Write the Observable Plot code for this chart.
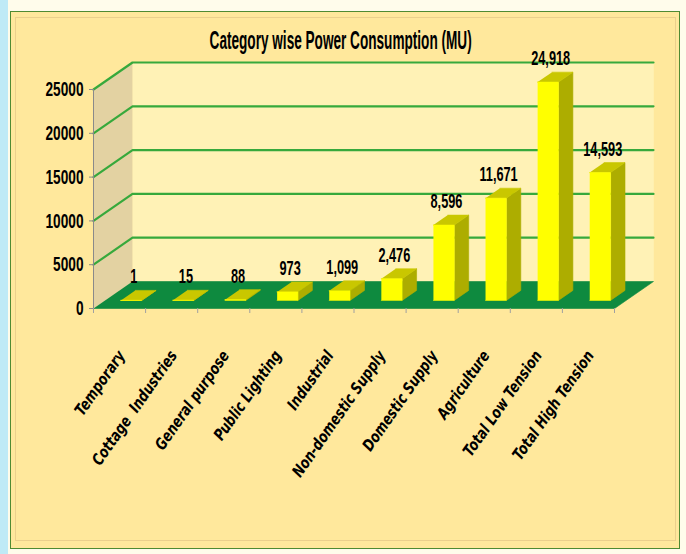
<!DOCTYPE html>
<html><head><meta charset="utf-8">
<script src="https://cdn.jsdelivr.net/npm/d3@7"></script>
<script src="https://cdn.jsdelivr.net/npm/@observablehq/plot@0.6"></script>
<style>
html,body{margin:0;padding:0;width:686px;height:554px;overflow:hidden;background:#FFFCEB;}
#strip{position:absolute;left:0;top:0;width:8px;height:554px;background:#BFEAF6;}
#frame{position:absolute;left:10px;top:11px;width:670px;height:538px;border:1.5px solid #4F8B33;background:#FFE89C;box-sizing:border-box;}
#inner{position:absolute;left:15px;top:17px;width:661px;height:524px;border:1px solid #EBD08C;box-sizing:border-box;}
#title{position:absolute;left:0;top:25px;width:682px;text-align:center;color:#000;line-height:30px;}
#title span{display:inline-block;font:bold 26px "Liberation Sans",Arial,sans-serif;transform-origin:50% 50%;white-space:nowrap;}
#chart{position:absolute;left:0;top:0;}
</style></head>
<body>
<div id="strip"></div>
<div id="frame"></div>
<div id="inner"></div>
<div id="title"><span>Category wise Power Consumption (MU)</span></div>
<div id="chart"></div>
<script>
const categories = ["Temporary", "Cottage  Industries", "General purpose", "Public Lighting", "Industrial",
  "Non-domestic Supply", "Domestic Supply", "Agriculture", "Total Low Tension", "Total High Tension"];
const values = [1, 15, 88, 973, 1099, 2476, 8596, 11671, 24918, 14593];
const yTicks = [0, 5000, 10000, 15000, 20000, 25000];

const W = 686, H = 554, mL = 93, mR = 33, mT = 62, mB = 246;
const depthPxX = 39, depthPxY = 27;
const yTop = yTicks[yTicks.length - 1];
const n = categories.length;
const DXu = n * depthPxX / ((W - mL - mR) - depthPxX);
const DYu = yTop * depthPxY / ((H - mT - mB) - depthPxY);
const P = (x, v, d) => ({x: x + d * DXu, y: v + d * DYu});
const poly = (id, pts) => pts.map(p => ({id, ...p}));

const sideWall = poly("side", [P(0,0,0), P(0,0,1), P(0,yTop,1), P(0,yTop,0)]);
const backWall = poly("back", [P(0,0,1), P(n,0,1), P(n,yTop,1), P(0,yTop,1)]);
const floor = poly("floor", [P(0,0,0), P(n,0,0), P(n,0,1), P(0,0,1)]);
const grid = yTicks.filter(t => t > 0).flatMap(t => poly(t, [P(0,t,0), P(0,t,1), P(n,t,1)]));

const bw = 0.4, d0 = 0.3, d1 = 0.67;
const fronts = [], sides = [], tops = [];
values.forEach((v, i) => {
  const a = i + 0.5 - bw / 2, b = a + bw;
  fronts.push(...poly(i, [P(a,0,d0), P(b,0,d0), P(b,v,d0), P(a,v,d0)]));
  sides.push(...poly(i, [P(b,0,d0), P(b,0,d1), P(b,v,d1), P(b,v,d0)]));
  tops.push(...poly(i, [P(a,v,d0), P(b,v,d0), P(b,v,d1), P(a,v,d1)]));
});
const fmt = d3.format(",");
const labels = values.map((v, i) => ({x: i + 0.5 + d0 * DXu + 0.05, y: v + d1 * DYu, t: fmt(v)}));

const shape = (data, color) => Plot.line(data, {x: "x", y: "y", z: "id", fill: color, stroke: color, strokeWidth: 0.6});
const sans = '"Liberation Sans",Arial,sans-serif';

const chart = Plot.plot({
  width: W, height: H,
  marginLeft: mL, marginRight: mR, marginTop: mT, marginBottom: mB,
  x: {domain: [0, n + DXu], label: null},
  y: {domain: [0, yTop + DYu], label: null},
  style: {background: "transparent", fontFamily: sans, fontSize: "18px", color: "#000"},
  marks: [
    shape(sideWall, "#E3D2A2"),
    shape(backWall, "#FFF2B6"),
    Plot.line(grid, {x: "x", y: "y", z: "id", stroke: "#37A93C", strokeWidth: 2.2}),
    shape(floor, "#0E8A3F"),
    shape(sides, "#ADAD00"),
    shape(tops, "#C9C700"),
    shape(fronts, "#FFFF00"),
    Plot.text(labels, {x: "x", y: "y", text: "t", dy: -7, lineAnchor: "bottom", fontSize: 20, fontWeight: "bold", fontFamily: sans}),
    Plot.ruleX([0], {y1: 0, y2: yTop, stroke: "#8A8A8A", strokeWidth: 1}),
    Plot.axisY({ticks: yTicks, tickFormat: d3.format("d"), tickSize: 4, tickPadding: 6, stroke: "#8A8A8A", fill: "#000", fontWeight: "bold", fontSize: 21}),
    Plot.axisX({ticks: d3.range(0, n + 1), tickFormat: () => "", tickSize: 5, stroke: "#A0A0A0"}),
    Plot.text(categories, {x: (d, i) => i + 0.5, y: 0, text: d => d, rotate: -55, textAnchor: "end", dx: 2, dy: 44,
      fontSize: 16, fontWeight: "bold", fontStyle: "italic", fontFamily: '"DejaVu Sans",sans-serif'})
  ]
});
document.getElementById("chart").append(chart);

const allText = [...chart.querySelectorAll("text")];
function squeeze(set, sample, target) {
  const texts = allText.filter(t => set.has(t.textContent));
  const ref = texts.find(t => t.textContent === sample);
  if (!ref) return;
  const s = target / ref.getComputedTextLength();
  for (const t of texts) t.setAttribute("transform", (t.getAttribute("transform") || "") + ` scale(${s},1)`);
}
squeeze(new Set(labels.map(d => d.t)), "24,918", 39);
squeeze(new Set(yTicks.map(d3.format("d"))), "25000", 38);
squeeze(new Set(categories), "Non-domestic Supply", 150);

const ts = document.querySelector("#title span");
ts.style.transform = `scaleX(${262 / ts.offsetWidth})`;
</script>
</body></html>
